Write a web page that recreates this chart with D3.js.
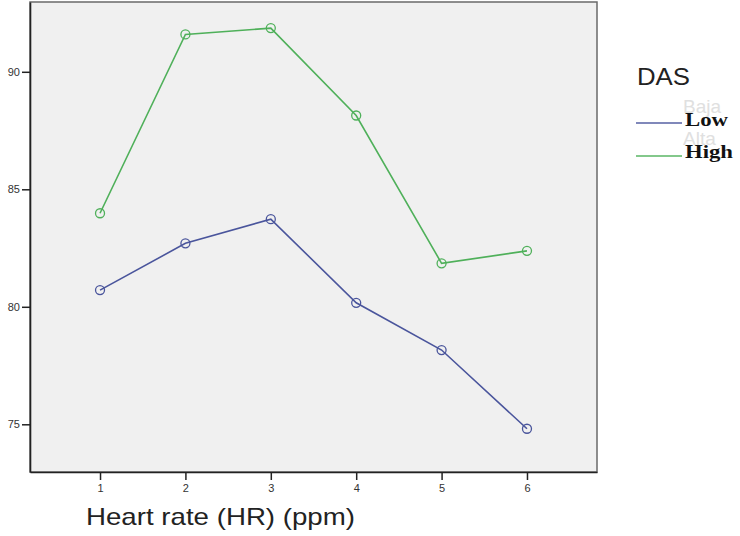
<!DOCTYPE html>
<html>
<head>
<meta charset="utf-8">
<script src="https://cdn.jsdelivr.net/npm/d3@7"></script>
<style>
  body { margin: 0; background: #fff; }
  svg { display: block; }
</style>
</head>
<body>
<div id="chart"></div>
<script>
// ---- DATA ----
const hrLevels = [1, 2, 3, 4, 5, 6];
const lowValues = [80.71, 82.70, 83.73, 80.17, 78.16, 74.81];
const highValues = [83.98, 91.59, 91.86, 88.14, 81.85, 82.38];
const yTicks = [75, 80, 85, 90];
const seriesNames = ["Low", "High"];
const ghostNames = ["Baja", "Alta"];

const width = 740;
const height = 536;
const plot = { left: 30, top: 2, right: 597, bottom: 472 };

const svg = d3.select("#chart")
  .append("svg")
  .attr("width", width)
  .attr("height", height);

// ---- SCALES ----
const x = d3.scaleLinear()
  .domain([0.18, 6.82])
  .range([plot.left, plot.right]);

const y = d3.scaleLinear()
  .domain([72.97, 92.97])
  .range([plot.bottom, plot.top]);

// ---- PLOT BACKGROUND ----
svg.append("rect")
  .attr("x", plot.left)
  .attr("y", plot.top)
  .attr("width", plot.right - plot.left)
  .attr("height", plot.bottom - plot.top)
  .attr("fill", "#f0f0f0")
  .attr("stroke", "#6a6a6a")
  .attr("stroke-width", 1.5);

// ---- AXES ----
const yAxis = svg.append("g")
  .attr("transform", `translate(${plot.left},0)`)
  .call(d3.axisLeft(y).tickValues(yTicks).tickSize(8).tickSizeOuter(0).tickPadding(2));

const xAxis = svg.append("g")
  .attr("transform", `translate(0,${plot.bottom})`)
  .call(d3.axisBottom(x).tickValues(hrLevels).tickFormat(d3.format("d"))
    .tickSize(8).tickSizeOuter(0).tickPadding(4));

[xAxis, yAxis].forEach(g => {
  g.select(".domain").attr("stroke", "#222").attr("stroke-width", 1.6);
  g.selectAll(".tick line").attr("stroke", "#222").attr("stroke-width", 1.5);
  g.selectAll(".tick text")
    .attr("fill", "#333")
    .style("font-family", "Liberation Sans, Arial, sans-serif")
    .style("font-size", "11px");
});

// ---- LINES ----
const series = [
  { name: seriesNames[0], values: lowValues, color: "#4a559c", textLen: 43 },
  { name: seriesNames[1], values: highValues, color: "#4fb05a", textLen: 48 }
];

const line = d3.line()
  .x((d, i) => x(hrLevels[i]))
  .y(d => y(d));

series.forEach(s => {
  svg.append("path")
    .datum(s.values)
    .attr("d", line)
    .attr("fill", "none")
    .attr("stroke", s.color)
    .attr("stroke-width", 1.6);

  svg.selectAll(null)
    .data(s.values)
    .enter()
    .append("circle")
    .attr("cx", (d, i) => x(hrLevels[i]))
    .attr("cy", d => y(d))
    .attr("r", 4.5)
    .attr("fill", "none")
    .attr("stroke", s.color)
    .attr("stroke-width", 1.3);
});

// ---- AXIS TITLE ----
svg.append("text")
  .attr("x", 86)
  .attr("y", 525)
  .attr("fill", "#222")
  .attr("textLength", 269)
  .attr("lengthAdjust", "spacingAndGlyphs")
  .style("font-family", "Liberation Sans, Arial, sans-serif")
  .style("font-size", "24px")
  .text("Heart rate (HR) (ppm)");

// ---- LEGEND ----
svg.append("text")
  .attr("x", 637)
  .attr("y", 85)
  .attr("fill", "#222")
  .attr("textLength", 53)
  .attr("lengthAdjust", "spacingAndGlyphs")
  .style("font-family", "Liberation Sans, Arial, sans-serif")
  .style("font-size", "24px")
  .text("DAS");

// faint leftover labels behind the legend
ghostNames.forEach((n, i) => {
  svg.append("text")
    .attr("x", 683)
    .attr("y", 113 + i * 32)
    .attr("fill", "#e0e0e0")
    .style("font-family", "Liberation Sans, Arial, sans-serif")
    .style("font-size", "19px")
    .text(n);
});

const legendRows = [
  { lineY: 123, textY: 126 },
  { lineY: 156, textY: 158 }
];

series.forEach((s, i) => {
  svg.append("line")
    .attr("x1", 636)
    .attr("x2", 682)
    .attr("y1", legendRows[i].lineY)
    .attr("y2", legendRows[i].lineY)
    .attr("stroke", s.color)
    .attr("stroke-opacity", 0.7)
    .attr("stroke-width", 1.8);

  svg.append("text")
    .attr("x", 685)
    .attr("y", legendRows[i].textY)
    .attr("fill", "#111")
    .attr("textLength", s.textLen)
    .attr("lengthAdjust", "spacingAndGlyphs")
    .style("font-family", "Liberation Serif, Times New Roman, serif")
    .style("font-weight", "bold")
    .style("font-size", "19px")
    .text(s.name);
});
</script>
</body>
</html>
